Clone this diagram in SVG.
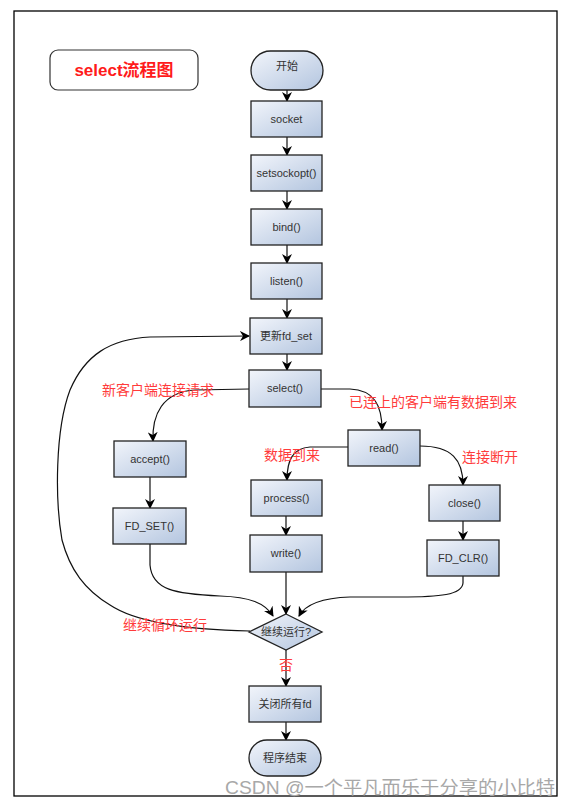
<svg xmlns="http://www.w3.org/2000/svg" width="571" height="806" viewBox="0 0 571 806">
<defs>
<linearGradient id="g" x1="0" y1="0" x2="1" y2="1">
<stop offset="0" stop-color="#f2f5fb"/>
<stop offset="1" stop-color="#b3c5df"/>
</linearGradient>
<marker id="ah" viewBox="0 0 10 10" refX="9" refY="5" markerWidth="10" markerHeight="10" markerUnits="userSpaceOnUse" orient="auto">
<path d="M0,0 L10,5 L0,10 L3,5 Z" fill="#000"/>
</marker>
</defs>
<style>
.n{fill:url(#g);stroke:#222;stroke-width:1.3}
.t{font-family:"Liberation Sans","Noto Sans CJK SC",sans-serif;font-size:11px;fill:#333;text-anchor:middle}
.r{font-family:"Liberation Sans","Noto Sans CJK SC",sans-serif;font-size:14px;fill:#ff3b3b}
.c{fill:none;stroke:#111;stroke-width:1.2;marker-end:url(#ah)}
</style>
<rect x="0" y="0" width="571" height="806" fill="#fff"/>
<rect x="14" y="11" width="543" height="785" fill="none" stroke="#000" stroke-width="1.3"/>
<g id="title">
<rect x="50" y="50" width="148" height="40" rx="8" fill="#fff" stroke="#333" stroke-width="1.2"/>
<text x="124" y="72" font-family="'Liberation Sans','Noto Sans CJK SC',sans-serif" font-size="17" font-weight="bold" fill="#ff1a1a" text-anchor="middle" dominant-baseline="middle">select流程图</text>
</g>
<g id="connectors">
<path class="c" d="M287,90 L287,101"/>
<path class="c" d="M287,137 L287,155"/>
<path class="c" d="M287,191 L287,209"/>
<path class="c" d="M287,245 L287,263"/>
<path class="c" d="M287,299 L287,318"/>
<path class="c" d="M287,354 L287,370"/>
<path class="c" d="M249,389 L195,390 C162,392 152,415 153,441"/>
<path class="c" d="M321,389 L350,389 C374,390 382,405 382,430"/>
<path class="c" d="M348,447 L310,447 C293,448 287,460 287,480"/>
<path class="c" d="M420,446 C452,446 463,460 463,485"/>
<path class="c" d="M150,477 L150,508"/>
<path class="c" d="M286,516 L286,535"/>
<path class="c" d="M463,521 L463,540"/>
<path class="c" d="M150,544 L150,565 C152,590 175,594 220,596 C250,597 265,603 273,616"/>
<path class="c" d="M286,572 L286,614"/>
<path class="c" d="M463,576 L463,583 C462,595 440,597 400,597 L350,597 C320,598 305,605 299,616"/>
<path class="c" d="M250,631 C200,630 140,625 110,605 C85,590 70,570 62,540 C55,500 55,430 70,390 C85,355 110,339 150,337 L249,336"/>
<path class="c" d="M286,650 L286,686"/>
<path class="c" d="M286,722 L286,740"/>
</g>
<g id="labels">
<text class="r" x="102" y="395">新客户端连接请求</text>
<text class="r" x="349" y="407">已连上的客户端有数据到来</text>
<text class="r" x="264" y="460">数据到来</text>
<text class="r" x="462" y="462">连接断开</text>
<text class="r" x="123" y="630">继续循环运行</text>
<text class="r" x="286" y="670" text-anchor="middle">否</text>
</g>
<g id="start"><rect class="n" x="251" y="51" width="72" height="39" rx="19.5"/><text class="t" x="287" y="70">开始</text></g>
<g id="socket"><rect class="n" x="251" y="101" width="71" height="36"/><text class="t" x="286.5" y="123">socket</text></g>
<g id="setsockopt"><rect class="n" x="251" y="155" width="71" height="36"/><text class="t" x="286.5" y="177">setsockopt()</text></g>
<g id="bind"><rect class="n" x="251" y="209" width="71" height="36"/><text class="t" x="286.5" y="231">bind()</text></g>
<g id="listen"><rect class="n" x="251" y="263" width="71" height="36"/><text class="t" x="286.5" y="285">listen()</text></g>
<g id="fdset_update"><rect class="n" x="250" y="318" width="72" height="36"/><text class="t" x="286" y="340">更新fd_set</text></g>
<g id="select"><rect class="n" x="249" y="370" width="72" height="37"/><text class="t" x="285" y="392">select()</text></g>
<g id="accept"><rect class="n" x="114" y="441" width="72" height="36"/><text class="t" x="150" y="463">accept()</text></g>
<g id="FD_SET"><rect class="n" x="113" y="508" width="73" height="36"/><text class="t" x="149.5" y="530">FD_SET()</text></g>
<g id="read"><rect class="n" x="348" y="430" width="72" height="36"/><text class="t" x="384" y="452">read()</text></g>
<g id="process"><rect class="n" x="251" y="480" width="71" height="36"/><text class="t" x="286.5" y="502">process()</text></g>
<g id="write"><rect class="n" x="250" y="535" width="72" height="37"/><text class="t" x="286" y="557">write()</text></g>
<g id="close"><rect class="n" x="429" y="485" width="71" height="36"/><text class="t" x="464.5" y="507">close()</text></g>
<g id="FD_CLR"><rect class="n" x="427" y="540" width="72" height="36"/><text class="t" x="463" y="562">FD_CLR()</text></g>
<g id="continue"><polygon class="n" points="286,614 322,632 286,650 249,632"/><text class="t" x="286" y="636">继续运行?</text></g>
<g id="closeall"><rect class="n" x="249" y="686" width="72" height="36"/><text class="t" x="285" y="708">关闭所有fd</text></g>
<g id="end"><rect class="n" x="249" y="740" width="72" height="36" rx="18"/><text class="t" x="285" y="762">程序结束</text></g>
<text x="555" y="794" font-family="'Liberation Sans','Noto Sans CJK SC',sans-serif" font-size="18" fill="#a8a8a8" text-anchor="end" textLength="330" lengthAdjust="spacingAndGlyphs">CSDN @一个平凡而乐于分享的小比特</text>
</svg>
